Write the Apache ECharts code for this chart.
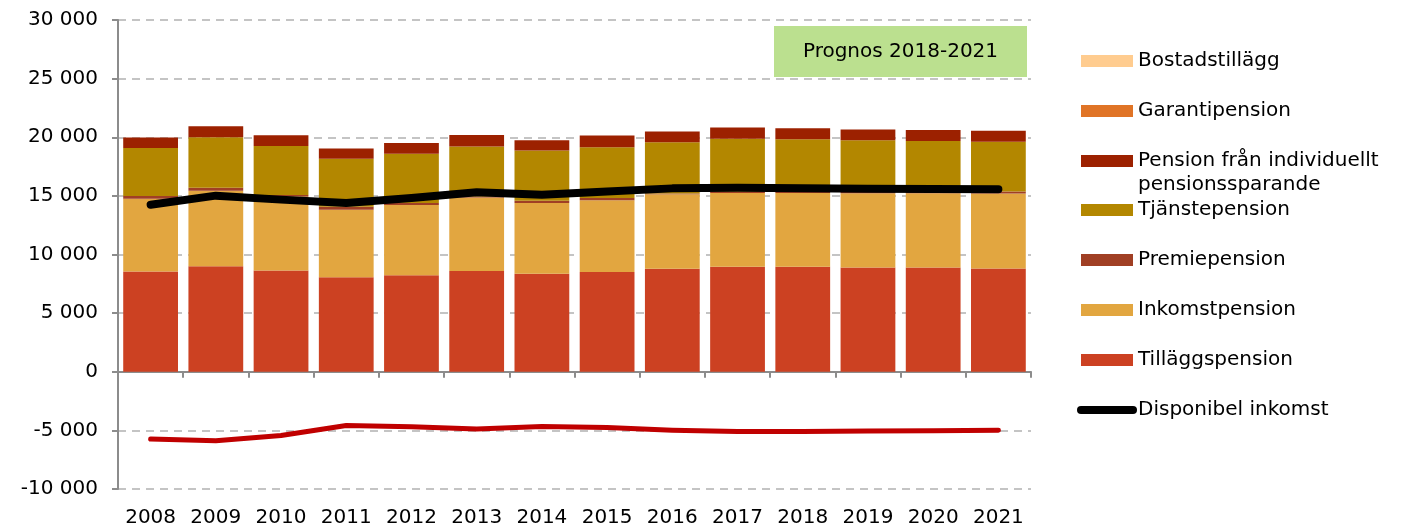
<!DOCTYPE html>
<html>
<head>
<meta charset="utf-8">
<script src="https://cdn.jsdelivr.net/npm/echarts@6/dist/echarts.min.js"></script>
<style>
  html, body { margin: 0; padding: 0; background: #fff; }
  #chart { width: 1411px; height: 530px; }
</style>
</head>
<body>
<div id="chart"></div>
<script>
// år
const years = ['2008', '2009', '2010', '2011', '2012', '2013', '2014', '2015', '2016', '2017', '2018', '2019', '2020', '2021'];

// staplade delar, kronor per månad
const tillaggspension = [8560, 8990, 8640, 8050, 8220, 8590, 8360, 8500, 8790, 8960, 8960, 8900, 8900, 8810];
const inkomstpension = [6200, 6450, 6310, 5770, 6000, 6280, 6030, 6120, 6340, 6290, 6290, 6330, 6320, 6400];
const premiepension = [230, 260, 120, 250, 170, 80, 200, 200, 80, 100, 120, 140, 150, 170];
const tjanstepension = [4100, 4290, 4190, 4100, 4210, 4270, 4270, 4320, 4360, 4530, 4450, 4370, 4310, 4240];
const individuellt = [880, 940, 900, 880, 910, 970, 880, 1000, 930, 960, 940, 930, 940, 940];
const garantipension = [0, 0, 0, 0, 0, 0, 0, 0, 0, 0, 0, 0, 0, 0];
const bostadstillagg = [0, 0, 0, 0, 0, 0, 0, 0, 0, 0, 0, 0, 0, 0];

// linjer
const disponibelInkomst = [14250, 15020, 14680, 14390, 14820, 15300, 15100, 15380, 15640, 15700, 15640, 15610, 15580, 15560];
const skatt = [-5740, -5890, -5430, -4580, -4690, -4890, -4670, -4750, -4980, -5090, -5090, -5060, -5030, -4980];

const yTicks = { min: -10000, max: 30000, step: 5000 };

const FONT = 'DejaVu Sans';

function fmt(v) {
    let s = String(Math.abs(v)).replace(/\B(?=(\d{3})+(?!\d))/g, ' ');
    return (v < 0 ? '-' : '') + s;
}

function bar(name, data, color) {
    return {
        name: name,
        type: 'bar',
        stack: 'pension',
        xAxisIndex: 0,
        barWidth: '84%',
        data: data,
        itemStyle: { color: color },
        emphasis: { disabled: true }
    };
}

const chart = echarts.init(document.getElementById('chart'));

const option = {
    animation: false,
    textStyle: { fontFamily: FONT },
    grid: { left: 118, right: 380, top: 20, bottom: 41 },
    legend: [{
        orient: 'vertical',
        left: 1081,
        top: 51,
        padding: 0,
        itemWidth: 52,
        itemHeight: 12,
        itemGap: 30,
        icon: 'rect',
        selectedMode: false,
        textStyle: { fontFamily: FONT, fontSize: 20, color: '#000', lineHeight: 20 },
        data: ['Bostadstillägg', 'Garantipension', 'Pension från individuellt']
    }, {
        orient: 'vertical',
        left: 1077,
        top: 200,
        padding: 0,
        itemWidth: 52,
        itemHeight: 12,
        itemGap: 30,
        selectedMode: false,
        textStyle: { fontFamily: FONT, fontSize: 20, color: '#000', lineHeight: 20 },
        data: [
            { name: 'Tjänstepension', icon: 'rect' },
            { name: 'Premiepension', icon: 'rect' },
            { name: 'Inkomstpension', icon: 'rect' },
            { name: 'Tilläggspension', icon: 'rect' },
            { name: 'Disponibel inkomst', lineStyle: { width: 8, cap: 'round' }, itemStyle: { opacity: 0 } }
        ]
    }],
    graphic: [{
        type: 'text',
        left: 1138,
        top: 175,
        style: { text: 'pensionssparande', fontFamily: FONT, fontSize: 20, fill: '#000' }
    }, {
        type: 'group',
        left: 774,
        top: 26,
        children: [{
            type: 'rect',
            shape: { x: 0, y: 0, width: 253, height: 51 },
            style: { fill: '#BBE08F' }
        }, {
            type: 'text',
            x: 126.5,
            y: 25.5,
            style: { text: 'Prognos 2018-2021', fontFamily: FONT, fontSize: 20, fill: '#000', align: 'center', verticalAlign: 'middle' }
        }]
    }],
    xAxis: [{
        type: 'category',
        data: years,
        position: 'top',
        axisLine: { onZero: true, lineStyle: { color: '#8C8C8C', width: 2 } },
        axisTick: { show: true, inside: true, length: 6, interval: 0, lineStyle: { color: '#8C8C8C', width: 2 } },
        axisLabel: { show: false },
        splitLine: { show: false }
    }, {
        type: 'category',
        data: years,
        position: 'bottom',
        axisLine: { show: false, onZero: false },
        axisTick: { show: false },
        axisLabel: { show: true, interval: 0, margin: 19, color: '#000', fontFamily: FONT, fontSize: 20 },
        splitLine: { show: false }
    }],
    yAxis: {
        type: 'value',
        min: yTicks.min,
        max: yTicks.max,
        interval: yTicks.step,
        axisLine: { show: true, lineStyle: { color: '#8C8C8C', width: 2 } },
        axisTick: { show: true, length: 6, lineStyle: { color: '#8C8C8C', width: 2 } },
        axisLabel: { margin: 20, color: '#000', fontFamily: FONT, fontSize: 20, formatter: fmt },
        splitLine: { show: true, lineStyle: { color: '#C4C4C4', width: 2, type: [8, 6] } }
    },
    series: [
        bar('Tilläggspension', tillaggspension, '#CC4122'),
        bar('Inkomstpension', inkomstpension, '#E2A640'),
        bar('Premiepension', premiepension, '#A03F24'),
        bar('Tjänstepension', tjanstepension, '#B38700'),
        bar('Pension från individuellt', individuellt, '#9C2100'),
        bar('Garantipension', garantipension, '#E07426'),
        bar('Bostadstillägg', bostadstillagg, '#FFCC8F'),
        {
            name: 'Disponibel inkomst',
            type: 'line',
            xAxisIndex: 0,
            data: disponibelInkomst,
            symbol: 'none',
            lineStyle: { color: '#000', width: 8, cap: 'round', join: 'round' },
            itemStyle: { color: '#000' },
            z: 5
        },
        {
            name: 'Skatt',
            type: 'line',
            xAxisIndex: 0,
            data: skatt,
            symbol: 'none',
            lineStyle: { color: '#C00000', width: 5, cap: 'round', join: 'round' },
            itemStyle: { color: '#C00000' },
            z: 5
        }
    ]
};

chart.setOption(option);
</script>
</body>
</html>
